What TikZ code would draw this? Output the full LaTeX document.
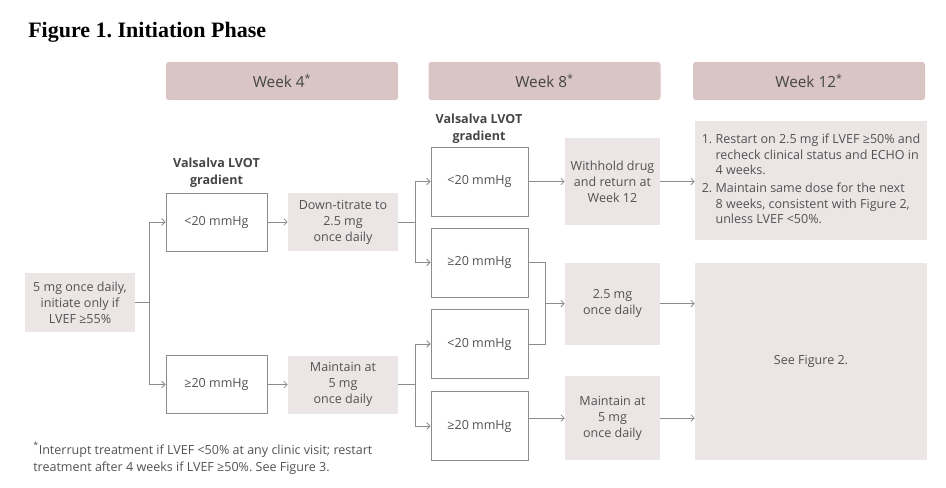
\documentclass[tikz,border=0pt]{standalone}
\usepackage{fontspec}
\setmainfont{Open Sans}
\newfontfamily\titlefont{Liberation Serif}
\usetikzlibrary{arrows.meta,positioning}
\definecolor{hdrfill}{HTML}{D9C5C3}
\definecolor{boxfill}{HTML}{EBE6E5}
\definecolor{txtgray}{HTML}{525252}
\definecolor{hdrtext}{HTML}{454545}
\definecolor{linegray}{HTML}{8C8C8C}
\frenchspacing

\begin{document}
\begin{tikzpicture}[
    x=0.75pt, y=-0.75pt,
    >={Straight Barb[length=2.5pt,width=5pt]},
    every node/.style={text=txtgray, inner sep=0pt, font=\fontsize{9.4}{12}\selectfont},
    weekhdr/.style={fill=hdrfill, rounded corners=2pt, minimum width=174pt,
        minimum height=28.5pt, text=hdrtext, font=\fontsize{11.5}{13}\selectfont},
    actionbox/.style={fill=boxfill, align=center},
    gradbox/.style={draw=linegray, line width=0.6pt, fill=white, align=center},
    gradlabel/.style={align=center, text=hdrtext, font=\fontsize{9.4}{12.5}\selectfont\bfseries},
    conn/.style={draw=linegray, line width=0.6pt}
]
    \useasboundingbox (0,0) rectangle (946,487);

    % Title and the three week headers
    \node[anchor=west, text=black, font=\titlefont\fontsize{16.5}{18}\selectfont\bfseries] (title) at (28,32) {Figure 1. Initiation Phase};
    \node[weekhdr] (wk4) at (282,81) {Week 4\textsuperscript{*}};
    \node[weekhdr] (wk8) at (544.5,81) {Week 8\textsuperscript{*}};
    \node[weekhdr] (wk12) at (809,81) {Week 12\textsuperscript{*}};

    % Starting dose
    \node[actionbox, minimum width=82.5pt, minimum height=44.25pt] (start) at (80,302.5) {5 mg once daily,\\initiate only if\\LVEF ≥55\%};

    % Week 4: gradient check and action
    \node[gradlabel] (lbl4) at (216.5,173) {Valsalva LVOT\\gradient};
    \node[gradbox, minimum width=75.75pt, minimum height=43.5pt] (lo4) at (216.5,222) {<20 mmHg};
    \node[gradbox, minimum width=75.75pt, minimum height=43.5pt] (hi4) at (216.5,384.5) {≥20 mmHg};
    \node[actionbox, minimum width=82.5pt, minimum height=43.5pt] (down4) at (343,222) {Down-titrate to\\2.5 mg\\once daily};
    \node[actionbox, minimum width=82.5pt, minimum height=43.5pt] (keep4) at (343,384.5) {Maintain at\\5 mg\\once daily};

    % Week 8: gradient check and action
    \node[gradlabel] (lbl8) at (479,129) {Valsalva LVOT\\gradient};
    \node[gradbox, minimum width=72.75pt, minimum height=51.75pt] (lo8a) at (479.5,181.5) {<20 mmHg};
    \node[gradbox, minimum width=72.75pt, minimum height=51.75pt] (hi8a) at (479.5,262.5) {≥20 mmHg};
    \node[gradbox, minimum width=72.75pt, minimum height=51.75pt] (lo8b) at (479.5,344) {<20 mmHg};
    \node[gradbox, minimum width=72.75pt, minimum height=51.75pt] (hi8b) at (479.5,426) {≥20 mmHg};
    \node[actionbox, minimum width=71.25pt, minimum height=65.25pt] (hold8) at (612.5,181.5) {Withhold drug\\and return at\\Week 12};
    \node[actionbox, minimum width=71.25pt, minimum height=61.5pt] (low8) at (612.5,303.5) {2.5 mg\\once daily};
    \node[actionbox, minimum width=71.25pt, minimum height=63pt] (keep8) at (612.5,418) {Maintain at\\5 mg\\once daily};

    % Week 12
    \node[actionbox, minimum width=174pt, minimum height=89.25pt, font=\fontsize{9.4}{11.6}\selectfont] (restart12) at (811,180.5) {%
        \begin{tabular}{@{}l@{\hspace{2.5pt}}l@{}}
        1. & Restart on 2.5 mg if LVEF ≥50\% and\\
           & recheck clinical status and ECHO in\\
           & 4 weeks.\\[2pt]
        2. & Maintain same dose for the next\\
           & 8 weeks, consistent with Figure 2,\\
           & unless LVEF <50\%.
        \end{tabular}};
    \node[actionbox, minimum width=174pt, minimum height=147.75pt] (fig12) at (811,361.5) {See Figure 2.};

    % Footnote
    \node[anchor=north west, align=left, font=\fontsize{9.4}{12.75}\selectfont] (note) at (33,442) {\textsuperscript{*}Interrupt treatment if LVEF <50\% at any clinic visit; restart\\treatment after 4 weeks if LVEF ≥50\%. See Figure 3.};

    % Connectors
    \coordinate (j0) at (149,302.5);
    \coordinate (j4a) at (415,222);
    \coordinate (j4b) at (415,384.5);
    \coordinate (j8) at (545,303.5);

    \draw[conn] (start) -- (j0);
    \draw[conn,->] (j0) |- (lo4);
    \draw[conn,->] (j0) |- (hi4);
    \draw[conn,->] (lo4) -- (down4);
    \draw[conn,->] (hi4) -- (keep4);

    \draw[conn] (down4) -- (j4a);
    \draw[conn,->] (j4a) |- (lo8a);
    \draw[conn,->] (j4a) |- (hi8a);
    \draw[conn] (keep4) -- (j4b);
    \draw[conn,->] (j4b) |- (lo8b);
    \draw[conn,->] (j4b) |- (hi8b);

    \draw[conn,->] (lo8a) -- (hold8);
    \draw[conn] (hi8a) -| (j8);
    \draw[conn] (lo8b) -| (j8);
    \draw[conn,->] (j8) -- (low8);
    \draw[conn,->] (hi8b.east |- keep8) -- (keep8);

    \draw[conn,->] (hold8.east) -- (hold8.east -| restart12.west);
    \draw[conn,->] (low8.east) -- (low8.east -| fig12.west);
    \draw[conn,->] (keep8.east) -- (keep8.east -| fig12.west);
\end{tikzpicture}
\end{document}
